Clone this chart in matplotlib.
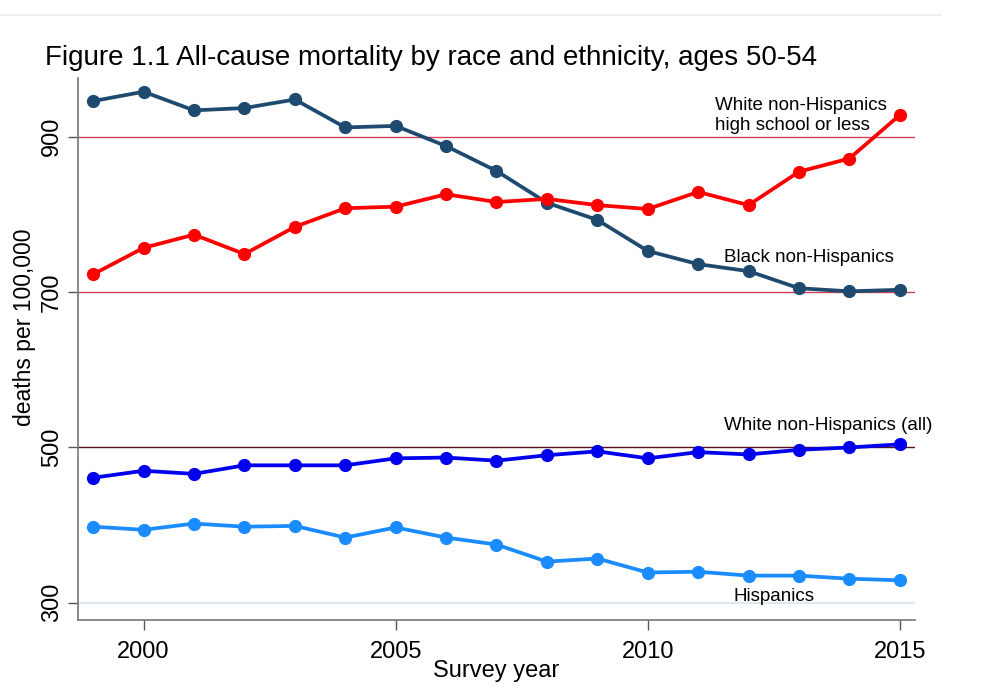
import matplotlib
matplotlib.use('Agg')
import matplotlib.pyplot as plt
from matplotlib.lines import Line2D

years = list(range(1999, 2016))
black_nh = [946, 958, 934, 937, 948, 912, 914, 888, 856, 815, 793, 753, 736, 727, 705, 701, 703]
white_hs = [723, 757, 774, 749, 784, 808, 810, 826, 816, 820, 812, 807, 829, 812, 855, 872, 928]
white_all = [461, 470, 466, 477, 477, 477, 486, 487, 483, 490, 495, 486, 494, 491, 497, 500, 504]
hispanics = [398, 394, 402, 398, 399, 384, 397, 384, 375, 353, 357, 339, 340, 335, 335, 331, 329]

yticks = [300, 500, 700, 900]
xticks = [2000, 2005, 2010, 2015]

narrow = ['Liberation Sans Narrow', 'Liberation Sans', 'DejaVu Sans']
plain = ['Liberation Sans', 'DejaVu Sans']

fig = plt.figure(figsize=(10.01, 6.88), dpi=100)
ax = fig.add_axes([0.078, 0.099, 0.836, 0.788])

ax.axhline(900, color='#d0405a', lw=1, zorder=1)
ax.axhline(700, color='#d0405a', lw=1, zorder=1)
ax.axhline(500, color='#5a1018', lw=1, zorder=1)
ax.axhline(300, color='#dde8ee', lw=1.5, zorder=1)

ax.plot(years, black_nh, color='#1f4a70', lw=2.7, marker='o', ms=8.5, zorder=3)
ax.plot(years, white_hs, color='#ff0000', lw=2.7, marker='o', ms=8.5, zorder=3)
ax.plot(years, white_all, color='#0000ee', lw=2.7, marker='o', ms=8.5, zorder=3)
ax.plot(years, hispanics, color='#1a8cff', lw=2.7, marker='o', ms=8.5, zorder=3)

ax.set_xlim(1998.7, 2015.3)
ax.set_ylim(278, 976)
ax.set_xticks(xticks)
ax.set_yticks(yticks)
ax.set_xticklabels([str(x) for x in xticks], family=narrow, fontsize=17)
ax.set_yticklabels([str(y) for y in yticks], family=narrow, fontsize=17, rotation=90, va='center')
ax.tick_params(axis='both', length=7, color='#555555', width=1)
ax.tick_params(axis='x', pad=8)
ax.tick_params(axis='y', pad=4)

for s in ['top', 'right']:
    ax.spines[s].set_visible(False)
for s in ['left', 'bottom']:
    ax.spines[s].set_color('#777777')
    ax.spines[s].set_linewidth(1.2)

ax.set_xlabel('Survey year', family=narrow, fontsize=17, labelpad=-2)
ax.set_ylabel('deaths per 100,000', family=plain, fontsize=16.5)
ax.yaxis.set_label_coords(-0.050, 0.539)

ax.text(2011.33, 927, 'White non-Hispanics\nhigh school or less', ha='left', va='center',
        family=plain, fontsize=13.5, linespacing=1.25, zorder=4)
ax.text(2013.2, 745, 'Black non-Hispanics', ha='center', va='center', family=plain, fontsize=13.5)
ax.text(2013.57, 528, 'White non-Hispanics (all)', ha='center', va='center', family=plain, fontsize=13.5)
ax.text(2012.5, 308, 'Hispanics', ha='center', va='center', family=plain, fontsize=13.5)

fig.text(0.045, 0.915, 'Figure 1.1 All-cause mortality by race and ethnicity, ages 50-54',
         family=narrow, fontsize=20, ha='left', va='center')

fig.add_artist(Line2D([0, 0.94], [0.978, 0.978], color='#eef2f2', lw=1.5, transform=fig.transFigure))

fig.savefig('out.png', dpi=100)
